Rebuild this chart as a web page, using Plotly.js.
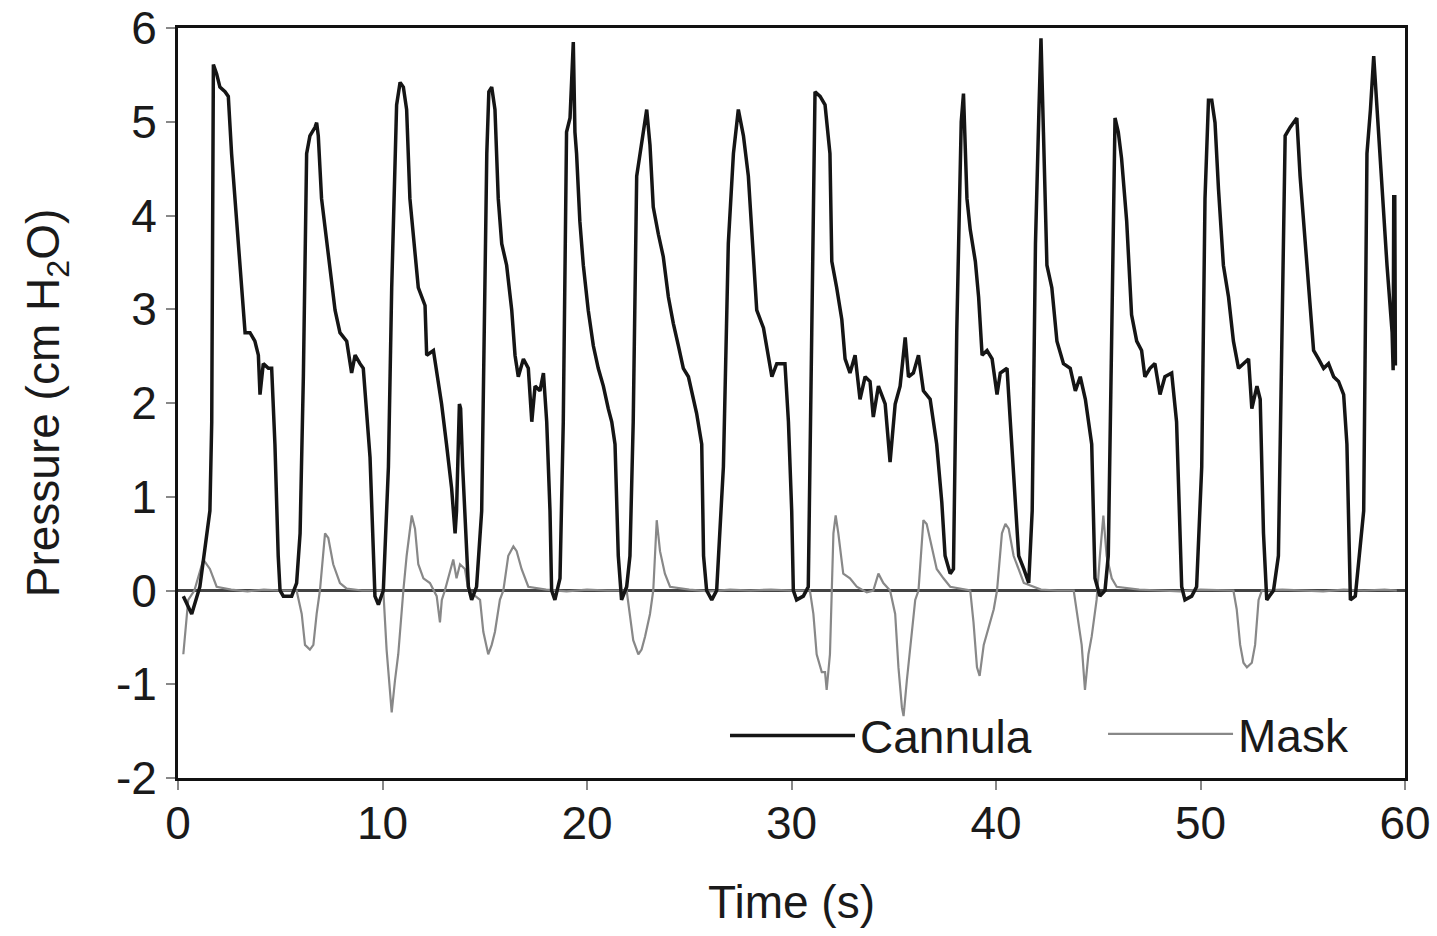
<!DOCTYPE html>
<html>
<head>
<meta charset="utf-8">
<script src="https://cdn.plot.ly/plotly-3.0.1.min.js"></script>
<style>html,body{margin:0;padding:0;background:#fff;}#chart{width:1437px;height:936px;}</style>
</head>
<body>
<div id="chart"></div>
<script>
// Cannula pressure trace (time s, pressure cm H2O)
const cannulaTime = [0.26,0.67,1.07,1.40,1.56,1.65,1.69,1.73,1.89,2.05,2.30,2.46,2.62,2.87,3.11,3.28,3.52,3.76,3.93,4.01,4.17,4.42,4.58,4.74,4.90,4.99,5.15,5.56,5.80,5.97,6.13,6.29,6.45,6.70,6.78,6.86,7.02,7.27,7.43,7.68,7.92,8.25,8.49,8.66,8.90,9.06,9.39,9.55,9.63,9.80,10.04,10.29,10.45,10.69,10.86,11.02,11.18,11.34,11.51,11.75,12.08,12.16,12.49,12.65,12.89,13.13,13.38,13.55,13.62,13.76,13.82,13.92,14.03,14.20,14.36,14.60,14.85,14.98,15.10,15.20,15.34,15.50,15.66,15.83,16.07,16.32,16.48,16.64,16.89,17.13,17.30,17.46,17.70,17.87,18.03,18.19,18.27,18.43,18.68,18.84,19.00,19.17,19.33,19.41,19.49,19.65,19.82,20.06,20.31,20.55,20.80,21.04,21.21,21.37,21.53,21.69,21.94,22.10,22.26,22.43,22.67,22.92,23.08,23.24,23.49,23.73,23.98,24.22,24.47,24.71,24.96,25.20,25.36,25.61,25.70,25.85,26.10,26.34,26.67,26.91,27.16,27.40,27.65,27.89,28.14,28.30,28.63,28.87,29.04,29.28,29.53,29.68,29.85,30.01,30.09,30.25,30.58,30.82,30.99,31.15,31.40,31.64,31.88,31.97,32.21,32.46,32.62,32.86,33.11,33.35,33.60,33.84,34.00,34.25,34.58,34.82,35.07,35.31,35.56,35.72,35.96,36.21,36.45,36.78,37.10,37.35,37.51,37.76,37.92,38.08,38.30,38.41,38.58,38.74,38.99,39.15,39.32,39.56,39.81,40.05,40.21,40.54,40.70,40.95,41.11,41.36,41.60,41.77,41.93,42.10,42.20,42.32,42.49,42.73,42.98,43.30,43.63,43.88,44.12,44.37,44.52,44.68,44.84,45.08,45.33,45.49,45.66,45.82,45.98,46.14,46.39,46.63,46.88,47.12,47.28,47.53,47.77,48.02,48.26,48.59,48.83,49.08,49.24,49.57,49.81,50.06,50.22,50.39,50.55,50.71,50.88,51.12,51.37,51.61,51.86,52.10,52.35,52.51,52.76,52.92,53.08,53.24,53.57,53.81,53.98,54.14,54.38,54.71,54.87,55.04,55.28,55.53,55.77,56.02,56.26,56.51,56.75,57.00,57.16,57.33,57.57,57.73,57.98,58.14,58.31,58.47,58.63,58.88,59.12,59.37,59.42,59.45,59.50,59.53];
const cannulaPressure = [-0.06,-0.25,0.04,0.56,0.85,1.8,3.7,5.61,5.51,5.37,5.32,5.27,4.66,3.94,3.23,2.75,2.75,2.66,2.51,2.09,2.42,2.37,2.37,1.56,0.37,0,-0.06,-0.06,0.08,0.61,2.28,4.66,4.85,4.94,4.99,4.85,4.18,3.70,3.47,2.99,2.75,2.66,2.32,2.51,2.42,2.37,1.42,0.37,-0.06,-0.15,0,1.32,3.23,5.18,5.42,5.37,5.13,4.18,3.75,3.23,3.04,2.51,2.56,2.32,1.99,1.56,1.09,0.61,0.85,1.99,1.94,1.32,0.85,0.04,-0.1,0.04,0.85,2.75,4.66,5.32,5.37,5.13,4.18,3.70,3.47,2.99,2.51,2.28,2.47,2.37,1.80,2.18,2.13,2.32,1.80,0.85,0,-0.10,0.13,1.80,4.89,5.04,5.85,4.89,4.66,3.94,3.47,2.99,2.61,2.37,2.18,1.94,1.80,1.56,0.37,-0.10,0.04,0.37,1.80,4.42,4.75,5.13,4.75,4.09,3.80,3.56,3.13,2.85,2.61,2.37,2.28,2.04,1.89,1.56,0.37,0,-0.10,0,1.32,3.70,4.66,5.13,4.85,4.42,3.47,2.99,2.80,2.51,2.28,2.42,2.42,2.42,1.80,0.85,0,-0.10,-0.06,0.04,2.75,5.32,5.27,5.18,4.66,3.51,3.23,2.89,2.47,2.32,2.51,2.04,2.28,2.23,1.85,2.18,1.99,1.37,1.99,2.18,2.70,2.28,2.32,2.51,2.13,2.04,1.56,0.94,0.37,0.18,0.23,2.75,5.00,5.30,4.18,3.85,3.51,3.13,2.51,2.56,2.47,2.09,2.32,2.37,1.80,0.85,0.37,0.23,0.08,0.85,3.70,5.13,5.89,4.89,3.47,3.23,2.66,2.42,2.37,2.13,2.28,2.04,1.80,1.56,0.13,-0.06,0,0.37,2.75,5.04,4.89,4.61,3.94,2.94,2.66,2.56,2.28,2.37,2.42,2.09,2.28,2.32,1.80,0.04,-0.10,-0.06,0.04,1.32,4.18,5.23,5.23,4.99,4.28,3.47,3.13,2.66,2.37,2.42,2.47,1.94,2.18,2.04,0.61,-0.10,0,0.37,2.75,4.85,4.94,5.04,4.42,3.94,3.23,2.56,2.47,2.37,2.42,2.28,2.23,2.09,1.56,-0.10,-0.06,0.28,0.85,4.66,5.13,5.70,5.13,4.18,3.47,2.75,2.35,4.20,4.20,2.40];

// Mask pressure trace
const maskTime = [0.26,0.50,0.80,1.24,1.56,1.89,2.60,3.40,4.20,5.00,5.80,6.05,6.21,6.45,6.62,6.78,6.94,7.19,7.35,7.59,7.92,8.25,9.00,10.04,10.20,10.37,10.45,10.61,10.77,11.02,11.18,11.43,11.59,11.75,12.00,12.32,12.65,12.81,12.90,13.05,13.46,13.62,13.79,14.03,14.20,14.77,14.93,15.17,15.34,15.50,15.74,15.91,16.15,16.40,16.56,16.80,17.13,18.00,19.00,20.00,21.00,21.94,22.10,22.26,22.51,22.67,22.84,23.08,23.24,23.41,23.57,23.81,24.06,25.00,26.00,27.00,28.00,29.00,30.00,30.90,31.07,31.23,31.48,31.64,31.72,31.88,31.97,32.05,32.16,32.29,32.53,32.86,33.19,33.68,34.00,34.25,34.49,34.82,35.07,35.23,35.40,35.48,35.64,35.88,36.05,36.21,36.45,36.61,36.86,37.10,37.43,37.76,38.74,38.90,39.07,39.20,39.40,39.72,39.89,40.05,40.29,40.46,40.62,40.86,41.11,41.36,42.20,43.00,43.80,43.94,44.19,44.35,44.52,44.68,44.92,45.08,45.25,45.41,45.66,45.90,47.00,48.00,49.00,50.00,51.00,51.61,51.77,51.94,52.10,52.27,52.51,52.67,52.84,53.00,54.00,55.00,56.00,57.00,58.00,59.00,59.60];
const maskPressure = [-0.68,-0.10,0,0.33,0.23,0.04,0.01,-0.01,0.01,0,0,-0.25,-0.58,-0.63,-0.58,-0.25,0,0.61,0.56,0.28,0.08,0.02,0,0,-0.63,-1.15,-1.30,-0.96,-0.68,0,0.37,0.80,0.66,0.28,0.13,0.08,-0.06,-0.34,-0.10,0,0.33,0.13,0.28,0.23,0,-0.10,-0.44,-0.68,-0.58,-0.44,-0.10,0,0.37,0.47,0.42,0.23,0.04,0.01,-0.01,0.01,0,0,-0.25,-0.53,-0.68,-0.63,-0.49,-0.25,0,0.75,0.42,0.18,0.04,0.01,-0.01,0.01,0,0.01,0,0,-0.25,-0.68,-0.87,-0.87,-1.06,-0.68,0,0.61,0.80,0.61,0.18,0.13,0.04,-0.02,0,0.18,0.08,0,-0.25,-0.82,-1.25,-1.34,-0.96,-0.49,-0.10,0,0.75,0.71,0.47,0.23,0.13,0.04,0,-0.34,-0.82,-0.91,-0.58,-0.34,-0.20,0,0.61,0.71,0.66,0.37,0.23,0.08,0.01,0,0,-0.20,-0.58,-1.06,-0.68,-0.49,-0.10,0.37,0.80,0.37,0.13,0.04,0.01,0,-0.01,0.01,0,0,-0.20,-0.58,-0.77,-0.82,-0.77,-0.58,-0.10,0,0.01,0,-0.01,0.01,0,0.01,0];

const xTicks = [0,10,20,30,40,50,60];
const yTicks = [-2,-1,0,1,2,3,4,5,6];

const FONT = 'Arial, "Liberation Sans", sans-serif';

const traces = [
  {x: maskTime, y: maskPressure, type: 'scatter', mode: 'lines', name: 'Mask',
   legend: 'legend2', line: {color: '#888888', width: 2.2}},
  {x: cannulaTime, y: cannulaPressure, type: 'scatter', mode: 'lines', name: 'Cannula',
   legend: 'legend', line: {color: '#151515', width: 3.5}}
];

const legendFont = {family: FONT, size: 46, color: '#1a1a1a'};

const layout = {
  width: 1437, height: 936,
  margin: {l: 178, r: 32, t: 28, b: 158, autoexpand: false},
  paper_bgcolor: '#fff', plot_bgcolor: '#fff',
  font: {family: FONT, size: 46, color: '#1a1a1a'},
  showlegend: true,
  legend: {
    orientation: 'h', x: 0.4458, xanchor: 'left', y: 0.008, yanchor: 'bottom',
    bgcolor: 'rgba(0,0,0,0)', itemwidth: 125, font: legendFont
  },
  legend2: {
    orientation: 'h', x: 0.7539, xanchor: 'left', y: 0.01, yanchor: 'bottom',
    bgcolor: 'rgba(0,0,0,0)', itemwidth: 125, font: legendFont
  },
  xaxis: {
    range: [0, 60], tickvals: xTicks, ticktext: xTicks.map(String),
    showgrid: false, zeroline: false,
    showline: true, linecolor: '#111', linewidth: 3, mirror: true,
    ticks: 'outside', ticklen: 9, tickwidth: 2, tickcolor: '#888',
    ticklabelstandoff: -6,
    tickfont: {family: FONT, size: 46, color: '#1a1a1a'},
    title: {text: 'Time (s)', font: {family: FONT, size: 46, color: '#1a1a1a'}, standoff: 38}
  },
  yaxis: {
    range: [-2, 6], tickvals: yTicks, ticktext: yTicks.map(String),
    showgrid: false, zeroline: true, zerolinecolor: '#444', zerolinewidth: 2.5,
    showline: true, linecolor: '#111', linewidth: 3, mirror: true,
    ticks: 'outside', ticklen: 9, tickwidth: 2, tickcolor: '#888',
    tickfont: {family: FONT, size: 46, color: '#1a1a1a'},
    title: {text: 'Pressure (cm H<sub>2</sub>O)', font: {family: FONT, size: 46, color: '#1a1a1a'}, standoff: 42}
  }
};

Plotly.newPlot('chart', traces, layout, {displayModeBar: false, staticPlot: true});
</script>
</body>
</html>
